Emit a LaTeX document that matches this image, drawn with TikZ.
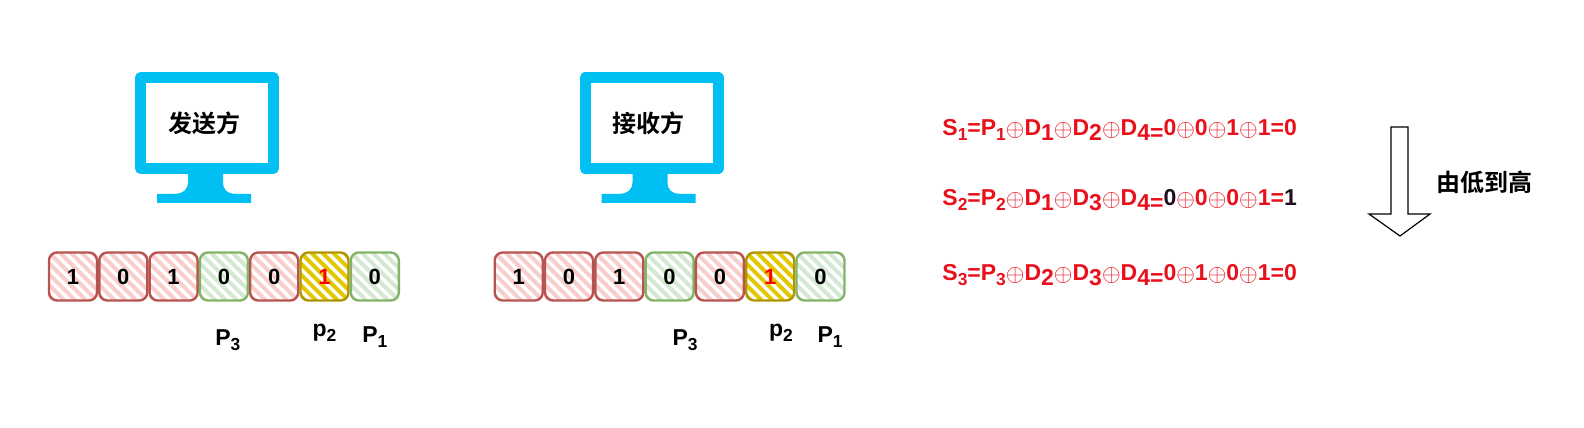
\documentclass[tikz,border=0pt]{standalone}
\usepackage{fontspec}
\setmainfont{Liberation Sans}[BoldFont={Liberation Sans Bold}]
\newfontfamily\cjk{Noto Sans CJK SC}[BoldFont={Noto Sans CJK SC Bold}]
\definecolor{fillred}{HTML}{F8CECC}
\definecolor{edgered}{HTML}{B85450}
\definecolor{fillgreen}{HTML}{D5E8D4}
\definecolor{edgegreen}{HTML}{82B366}
\definecolor{fillyellow}{HTML}{E3C800}
\definecolor{edgeyellow}{HTML}{B09500}
\definecolor{screenblue}{HTML}{00BFF3}
\definecolor{eqred}{HTML}{E8101A}
\definecolor{eqdark}{HTML}{1F0F1F}
\newcommand{\xr}{\raisebox{-0.2pt}{$\oplus$}}
\newcommand{\sm}[1]{\raisebox{-2.2pt}{\fontsize{8.7}{8.7}\selectfont #1}}
\newcommand{\lw}[1]{\raisebox{-2.2pt}{#1}}
\begin{document}
\begin{tikzpicture}[x=0.5pt, y=-0.5pt, node distance=25.15pt,
    bit/.style = {line width=1.2pt, rounded corners=4pt, minimum size=24pt, inner sep=0pt, font=\fontsize{11}{11}\selectfont\bfseries},
    stripes/.style = {path picture={
        \foreach \k in {-6,...,6}
            \draw[sharp corners, line width=2pt, draw=#1]
                ([xshift=\k*5.4pt-15pt, yshift=15pt]path picture bounding box.center)
                -- ([xshift=\k*5.4pt+15pt, yshift=-15pt]path picture bounding box.center);
    }},
    data/.style = {bit, draw=edgered, stripes=fillred},
    check/.style = {bit, draw=edgegreen, stripes=fillgreen},
    flip/.style = {bit, draw=edgeyellow, text=red, stripes=fillyellow},
    tag/.style = {font=\fontsize{11.5}{11.5}\selectfont\bfseries, inner sep=0pt},
    screen/.style = {draw=screenblue, line width=5.5pt, line join=round, minimum width=66.5pt, minimum height=45.25pt, inner sep=0pt, font=\cjk\bfseries\fontsize{12}{12}\selectfont},
    monitorstand/.pic = {
        \fill[screenblue] (-19,0) -- (-19,8) .. controls (-19,16) and (-24,20) .. (-32,20) -- (-50,20) -- (-50,29) -- (44,29) -- (44,20) -- (28,20) .. controls (20,20) and (16,16) .. (16,8) -- (16,0) -- cycle;
    },
    eq/.style = {anchor=west, inner sep=0pt, text=eqred, font=\fontsize{11.5}{11.5}\selectfont\bfseries},
    note/.style = {font=\cjk\bfseries\fontsize{12}{12}\selectfont, inner sep=0pt}]
    \useasboundingbox (0,0) rectangle (1584,428);

    % sender
    \node[screen] (send) at (207,123) {发送方\hspace*{3pt}};
    \pic at (send.south) {monitorstand};
    \node[data] (a1) at (73,276.5) {1};
    \node[data] (a2) [right of=a1] {0};
    \node[data] (a3) [right of=a2] {1};
    \node[check] (a4) [right of=a3] {0};
    \node[data] (a5) [right of=a4] {0};
    \node[flip] (a6) [right of=a5] {1};
    \node[check] (a7) [right of=a6] {0};
    \node[tag] (a8) [below of=a4, node distance=31.75pt, xshift=2pt] {P\sm{3}};
    \node[tag] (a9) [below of=a6, node distance=28.25pt] {p\sm{2}};
    \node[tag] (a10) [below of=a7, node distance=30.25pt] {P\sm{1}};

    % receiver
    \node[screen] (recv) at (651.5,123) {接收方\hspace*{3pt}};
    \pic at (recv.south) {monitorstand};
    \node[data] (b1) at (518.7,276.5) {1};
    \node[data] (b2) [right of=b1] {0};
    \node[data] (b3) [right of=b2] {1};
    \node[check] (b4) [right of=b3] {0};
    \node[data] (b5) [right of=b4] {0};
    \node[flip] (b6) [right of=b5] {1};
    \node[check] (b7) [right of=b6] {0};
    \node[tag] (b8) [below of=b4, node distance=31.75pt, xshift=7.7pt] {P\sm{3}};
    \node[tag] (b9) [below of=b6, node distance=28.25pt, xshift=5.4pt] {p\sm{2}};
    \node[tag] (b10) [below of=b7, node distance=30.25pt, xshift=4.75pt] {P\sm{1}};

    % syndrome
    \node[eq] (s1) at (942,130) {S\sm{1}=P\sm{1}\xr D\lw{1}\xr D\lw{2}\xr D\lw{4}\lw{=}0\xr 0\xr 1\xr 1=0};
    \node[eq] (s2) at (942,200) {S\sm{2}=P\sm{2}\xr D\lw{1}\xr D\lw{3}\xr D\lw{4}\lw{=}\textcolor{eqdark}{0}\xr 0\xr 0\xr 1=\textcolor{eqdark}{1}};
    \node[eq] (s3) at (942,275) {S\sm{3}=P\sm{3}\xr D\lw{2}\xr D\lw{3}\xr D\lw{4}\lw{=}0\xr 1\xr 0\xr 1=0};

    \draw[line width=0.6pt] (1391,127) -- (1408,127) -- (1408,214) -- (1430,214) -- (1400,236) -- (1369,214) -- (1391,214) -- cycle;
    \node[note] (dir) at (1484,182) {由低到高};
\end{tikzpicture}
\end{document}
